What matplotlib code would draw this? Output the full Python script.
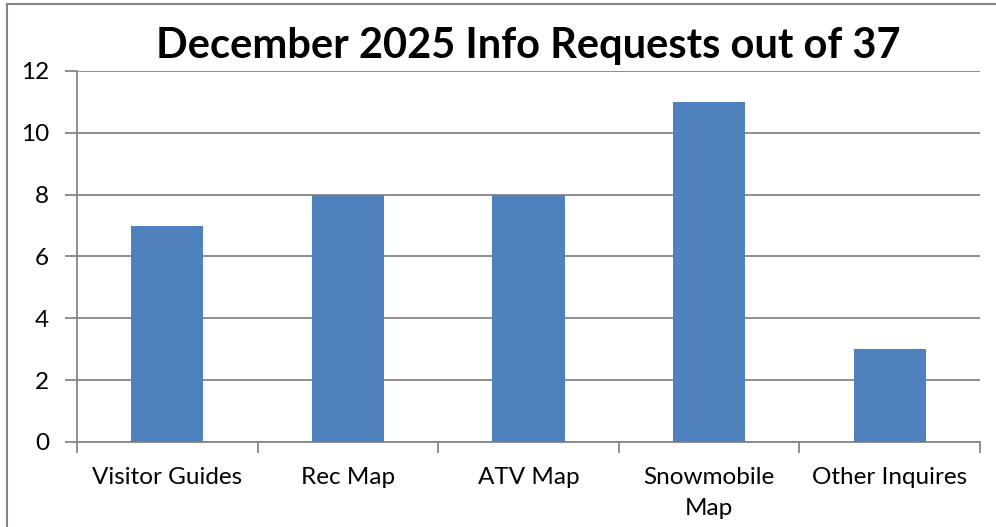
import matplotlib.pyplot as plt
from matplotlib.patches import Rectangle

# chart data
categories = ['Visitor Guides', 'Rec Map', 'ATV Map', 'Snowmobile\nMap', 'Other Inquires']
requests = [7, 8, 8, 11, 3]
y_ticks = [0, 2, 4, 6, 8, 10, 12]
title = 'December 2025 Info Requests out of 37'

plt.rcParams['font.family'] = ['Lato', 'DejaVu Sans']

fig = plt.figure(figsize=(9.96, 5.27), dpi=100)
ax = fig.add_axes([0.0773, 0.1613, 0.9067, 0.704])

grey = '#868686'
xs = list(range(len(categories)))
ax.bar(xs, requests, width=0.4, color='#4F81BD', zorder=3)

ax.set_xlim(-0.5, len(categories) - 0.5)
ax.set_ylim(0, 12)
ax.set_yticks(y_ticks)
ax.set_yticklabels([str(t) for t in y_ticks], fontsize=17.5)
ax.yaxis.grid(True, color=grey, linewidth=1.3, zorder=0)

# labels centred on categories, ticks on category boundaries
ax.set_xticks(xs)
ax.set_xticklabels(categories, fontsize=17.5, linespacing=1.6)
ax.tick_params(axis='x', length=0, pad=18)
ax.set_xticks([i - 0.5 for i in range(len(categories) + 1)], minor=True)
ax.tick_params(axis='x', which='minor', length=8, width=1.3, color=grey)
ax.tick_params(axis='y', length=9, width=1.3, color=grey, pad=11)

for side in ['top', 'right']:
    ax.spines[side].set_visible(False)
for side in ['left', 'bottom']:
    ax.spines[side].set_color(grey)
    ax.spines[side].set_linewidth(1.3)

fig.text(0.53, 0.913, title, ha='center', va='center', fontsize=30, fontweight='bold')

# outer chart border
fig.patches.append(Rectangle((0.007, -0.01), 1.0, 1.0 - 0.0076 + 0.01, transform=fig.transFigure,
                             fill=False, edgecolor=grey, linewidth=1.5))

fig.savefig('out.png', dpi=100)
